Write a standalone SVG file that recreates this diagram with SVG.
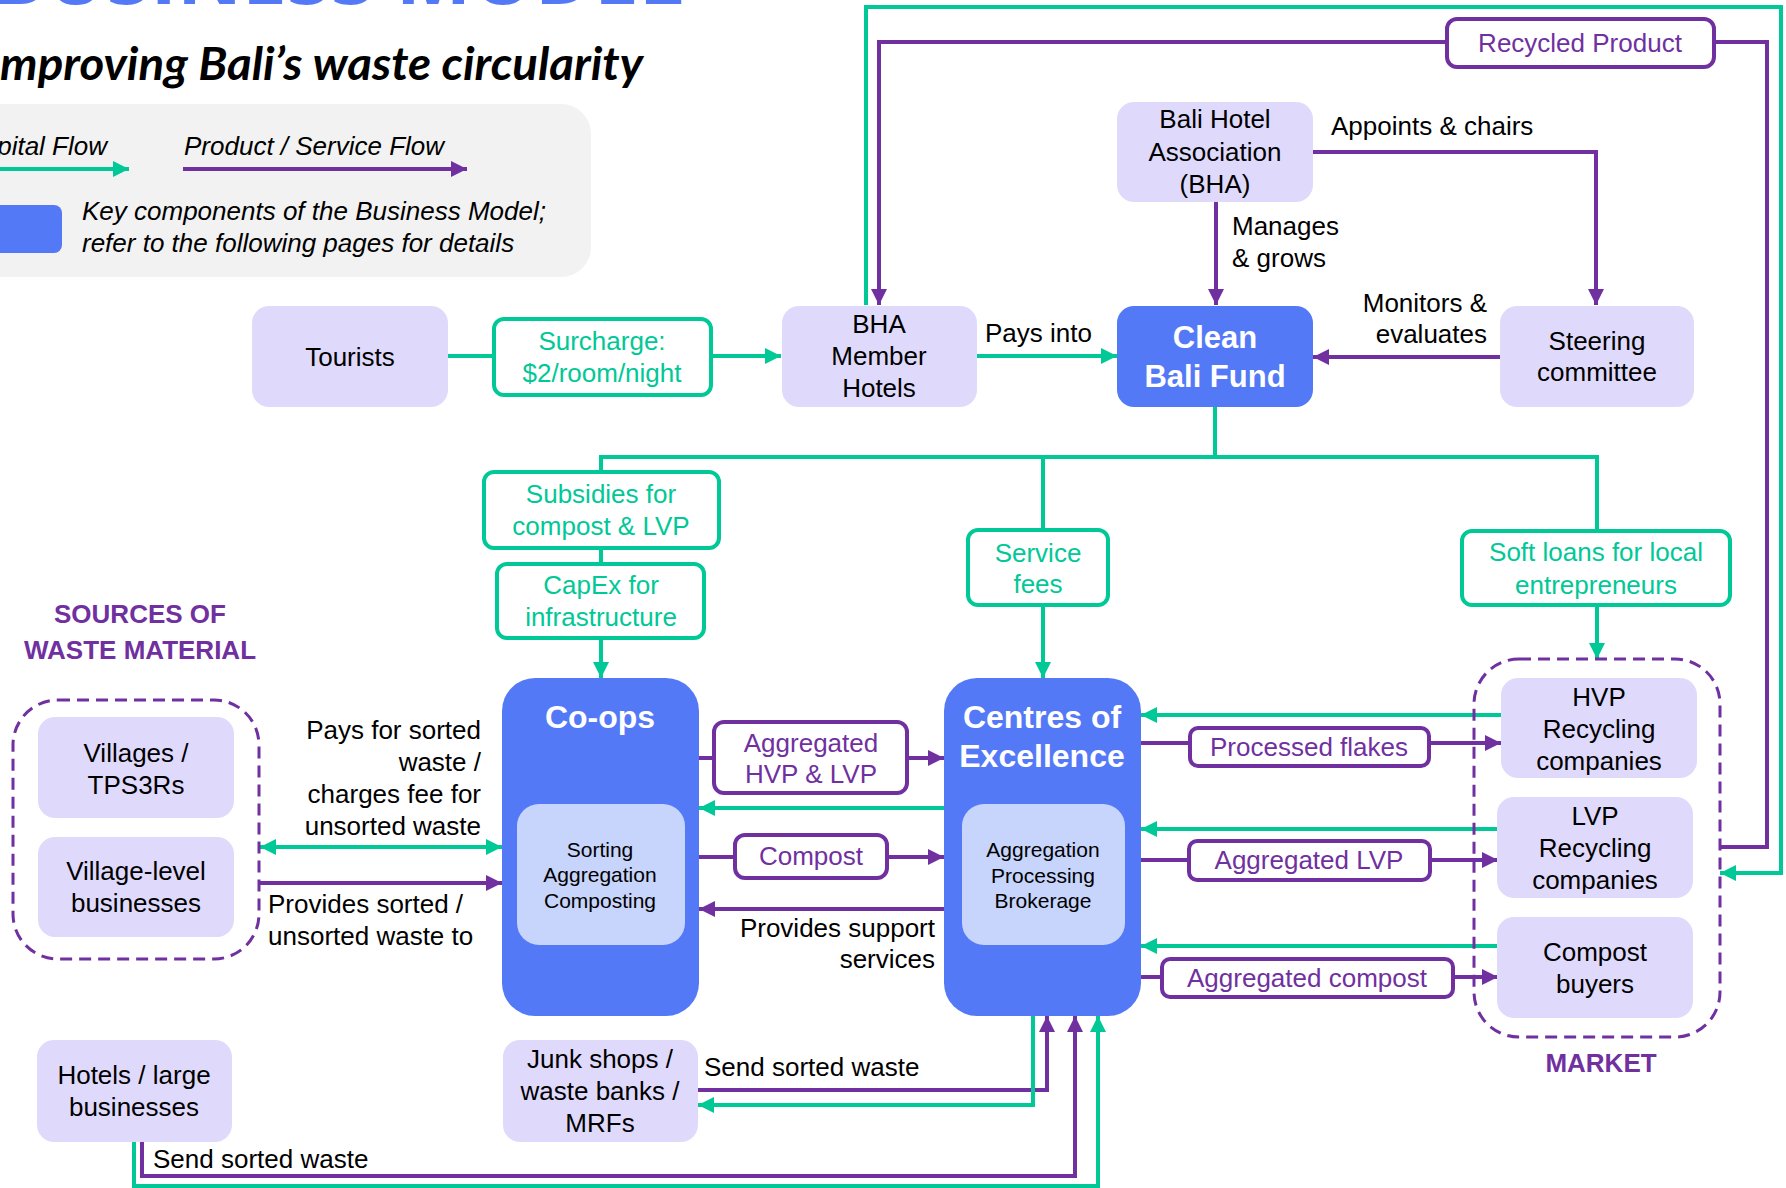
<svg xmlns="http://www.w3.org/2000/svg" width="1786" height="1188" viewBox="0 0 1786 1188">
<defs>
<style>
text{font-family:"Liberation Sans",Arial,sans-serif;font-size:26px;fill:#000}
.c{text-anchor:middle}
.e{text-anchor:end}
.i{font-style:italic}
.node{fill:#DFDAFC}
.key{fill:#5479F7}
.inner{fill:#C7D4FC}
.lg{fill:none;stroke:#00C896;stroke-width:4}
.lp{fill:none;stroke:#7030A0;stroke-width:4}
.bg{fill:#fff;stroke:#00C896;stroke-width:4}
.bp{fill:#fff;stroke:#7030A0;stroke-width:4}
.tg{fill:#00C896}
.tp{fill:#7030A0}
.w{fill:#fff;font-weight:bold;font-size:31px}
.s{font-size:21px}
.h{fill:#7030A0;font-weight:bold}
.dash{fill:none;stroke:#7030A0;stroke-width:3;stroke-dasharray:12 7}
</style>
<marker id="ag" markerUnits="userSpaceOnUse" markerWidth="16" markerHeight="16" refX="16" refY="8" orient="auto-start-reverse"><path d="M0,0L16,8L0,16z" fill="#00C896"/></marker>
<marker id="ap" markerUnits="userSpaceOnUse" markerWidth="16" markerHeight="16" refX="16" refY="8" orient="auto"><path d="M0,0L16,8L0,16z" fill="#7030A0"/></marker>
</defs>
<rect width="1786" height="1188" fill="#fff"/>

<g id="title">
<text x="684" y="4" class="e" style="font-family:'Open Sans',sans-serif;font-size:80px;font-weight:700;fill:#5479F7">BUSINESS MODEL</text>
<text x="-13" y="80" textLength="656" lengthAdjust="spacingAndGlyphs" style="font-family:Lato,'Open Sans',sans-serif;font-size:45px;font-weight:700;font-style:italic">Improving Bali’s waste circularity</text>
</g>

<g id="legend">
<rect x="-40" y="104" width="631" height="173" rx="30" fill="#F2F2F2"/>
<text x="107" y="155" class="e i">Capital Flow</text>
<path d="M-10,169H129" class="lg" marker-end="url(#ag)"/>
<text x="184" y="155" class="i">Product / Service Flow</text>
<path d="M183,169H467" class="lp" marker-end="url(#ap)"/>
<rect x="-20" y="205" width="82" height="48" rx="8" class="key"/>
<text x="82" y="220" class="i">Key components of the Business Model;</text>
<text x="82" y="252" class="i">refer to the following pages for details</text>
</g>

<g id="connectors">
<path d="M448,356H781" class="lg" marker-end="url(#ag)"/>
<path d="M977,356H1117" class="lg" marker-end="url(#ag)"/>
<path d="M1216,202V305" class="lp" marker-end="url(#ap)"/>
<path d="M1313,152H1596V305" class="lp" marker-end="url(#ap)"/>
<path d="M1500,357H1313" class="lp" marker-end="url(#ap)"/>
<path d="M1215,407V457" class="lg"/>
<path d="M601,472V457H1597V531" class="lg"/>
<path d="M1043,457V530" class="lg"/>
<path d="M601,548V564" class="lg"/>
<path d="M601,638V678" class="lg" marker-end="url(#ag)"/>
<path d="M1043,605V678" class="lg" marker-end="url(#ag)"/>
<path d="M1597,605V659" class="lg" marker-end="url(#ag)"/>
<path d="M866,305V7H1781V873H1720" class="lg" marker-end="url(#ag)"/>
<path d="M1447,42H879V305" class="lp" marker-end="url(#ap)"/>
<path d="M1714,42H1767V847H1720" class="lp"/>
<path d="M260,847H502" class="lg" marker-start="url(#ag)" marker-end="url(#ag)"/>
<path d="M259,883H502" class="lp" marker-end="url(#ap)"/>
<path d="M699,758H944" class="lp" marker-end="url(#ap)"/>
<path d="M944,808H699" class="lg" marker-end="url(#ag)"/>
<path d="M699,857H944" class="lp" marker-end="url(#ap)"/>
<path d="M944,909H699" class="lp" marker-end="url(#ap)"/>
<path d="M1501,715H1141" class="lg" marker-end="url(#ag)"/>
<path d="M1141,743H1501" class="lp" marker-end="url(#ap)"/>
<path d="M1498,829H1141" class="lg" marker-end="url(#ag)"/>
<path d="M1141,860H1498" class="lp" marker-end="url(#ap)"/>
<path d="M1498,946H1141" class="lg" marker-end="url(#ag)"/>
<path d="M1141,977H1498" class="lp" marker-end="url(#ap)"/>
<path d="M698,1090H1047V1016" class="lp" marker-end="url(#ap)"/>
<path d="M1033,1016V1105H698" class="lg" marker-end="url(#ag)"/>
<path d="M142,1142V1176H1075V1016" class="lp" marker-end="url(#ap)"/>
<path d="M134,1142V1186H1098V1016" class="lg" marker-end="url(#ag)"/>
</g>

<g id="connector-labels">
<rect x="1447" y="19" width="267" height="48" rx="10" class="bp"/>
<text x="1580" y="52" class="c tp">Recycled Product</text>
<rect x="494" y="319" width="217" height="76" rx="10" class="bg"/>
<text x="602" y="350" class="c tg">Surcharge:</text>
<text x="602" y="382" class="c tg">$2/room/night</text>
<rect x="484" y="472" width="235" height="76" rx="10" class="bg"/>
<text x="601" y="503" class="c tg">Subsidies for</text>
<text x="601" y="535" class="c tg">compost &amp; LVP</text>
<rect x="497" y="564" width="207" height="74" rx="10" class="bg"/>
<text x="601" y="594" class="c tg">CapEx for</text>
<text x="601" y="626" class="c tg">infrastructure</text>
<rect x="968" y="530" width="140" height="75" rx="10" class="bg"/>
<text x="1038" y="562" class="c tg">Service</text>
<text x="1038" y="593" class="c tg">fees</text>
<rect x="1462" y="531" width="268" height="74" rx="10" class="bg"/>
<text x="1596" y="561" class="c tg">Soft loans for local</text>
<text x="1596" y="594" class="c tg">entrepreneurs</text>
<rect x="714" y="722" width="193" height="71" rx="10" class="bp"/>
<text x="811" y="752" class="c tp">Aggregated</text>
<text x="811" y="783" class="c tp">HVP &amp; LVP</text>
<rect x="735" y="835" width="152" height="43" rx="10" class="bp"/>
<text x="811" y="865" class="c tp">Compost</text>
<rect x="1190" y="728" width="239" height="38" rx="8" class="bp"/>
<text x="1309" y="756" class="c tp">Processed flakes</text>
<rect x="1189" y="841" width="241" height="39" rx="8" class="bp"/>
<text x="1309" y="869" class="c tp">Aggregated LVP</text>
<rect x="1162" y="959" width="291" height="38" rx="8" class="bp"/>
<text x="1307" y="987" class="c tp">Aggregated compost</text>
<text x="985" y="342">Pays into</text>
<text x="1331" y="135">Appoints &amp; chairs</text>
<text x="1232" y="235">Manages</text>
<text x="1232" y="267">&amp; grows</text>
<text x="1487" y="312" class="e">Monitors &amp;</text>
<text x="1487" y="343" class="e">evaluates</text>
<text x="481" y="739" class="e">Pays for sorted</text>
<text x="481" y="771" class="e">waste /</text>
<text x="481" y="803" class="e">charges fee for</text>
<text x="481" y="835" class="e">unsorted waste</text>
<text x="268" y="913">Provides sorted /</text>
<text x="268" y="945">unsorted waste to</text>
<text x="935" y="937" class="e">Provides support</text>
<text x="935" y="968" class="e">services</text>
<text x="704" y="1076">Send sorted waste</text>
<text x="153" y="1168">Send sorted waste</text>
</g>

<g id="tourists">
<rect x="252" y="306" width="196" height="101" rx="17" class="node"/>
<text x="350" y="366" class="c">Tourists</text>
</g>
<g id="bha-member-hotels">
<rect x="782" y="306" width="195" height="101" rx="17" class="node"/>
<text x="879" y="333" class="c">BHA</text>
<text x="879" y="365" class="c">Member</text>
<text x="879" y="397" class="c">Hotels</text>
</g>
<g id="clean-bali-fund">
<rect x="1117" y="306" width="196" height="101" rx="17" class="key"/>
<text x="1215" y="348" class="c w">Clean</text>
<text x="1215" y="387" class="c w">Bali Fund</text>
</g>
<g id="bha">
<rect x="1117" y="102" width="196" height="100" rx="17" class="node"/>
<text x="1215" y="128" class="c">Bali Hotel</text>
<text x="1215" y="161" class="c">Association</text>
<text x="1215" y="193" class="c">(BHA)</text>
</g>
<g id="steering-committee">
<rect x="1500" y="306" width="194" height="101" rx="17" class="node"/>
<text x="1597" y="350" class="c">Steering</text>
<text x="1597" y="381" class="c">committee</text>
</g>
<g id="co-ops">
<rect x="502" y="678" width="197" height="338" rx="33" class="key"/>
<text x="600" y="728" class="c w" style="font-size:32px">Co-ops</text>
<rect x="517" y="804" width="168" height="141" rx="22" class="inner"/>
<text x="600" y="857" class="c s">Sorting</text>
<text x="600" y="882" class="c s">Aggregation</text>
<text x="600" y="908" class="c s">Composting</text>
</g>
<g id="centres-of-excellence">
<rect x="944" y="678" width="197" height="338" rx="33" class="key"/>
<text x="1042" y="728" class="c w" style="font-size:32px">Centres of</text>
<text x="1042" y="767" class="c w" style="font-size:32px">Excellence</text>
<rect x="962" y="804" width="163" height="141" rx="22" class="inner"/>
<text x="1043" y="857" class="c s">Aggregation</text>
<text x="1043" y="883" class="c s">Processing</text>
<text x="1043" y="908" class="c s">Brokerage</text>
</g>
<g id="sources">
<text x="140" y="623" class="c h">SOURCES OF</text>
<text x="140" y="659" class="c h">WASTE MATERIAL</text>
<rect x="13" y="700" width="246" height="259" rx="45" class="dash"/>
</g>
<g id="villages">
<rect x="38" y="717" width="196" height="101" rx="17" class="node"/>
<text x="136" y="762" class="c">Villages /</text>
<text x="136" y="794" class="c">TPS3Rs</text>
</g>
<g id="village-level-businesses">
<rect x="38" y="837" width="196" height="100" rx="17" class="node"/>
<text x="136" y="880" class="c">Village-level</text>
<text x="136" y="912" class="c">businesses</text>
</g>
<g id="hotels-large-businesses">
<rect x="37" y="1040" width="195" height="102" rx="17" class="node"/>
<text x="134" y="1084" class="c">Hotels / large</text>
<text x="134" y="1116" class="c">businesses</text>
</g>
<g id="junk-shops">
<rect x="503" y="1040" width="195" height="102" rx="17" class="node"/>
<text x="600" y="1068" class="c">Junk shops /</text>
<text x="600" y="1100" class="c">waste banks /</text>
<text x="600" y="1132" class="c">MRFs</text>
</g>
<g id="market">
<rect x="1474" y="659" width="246" height="378" rx="45" class="dash"/>
<text x="1601" y="1072" class="c h">MARKET</text>
</g>
<g id="hvp-recycling">
<rect x="1501" y="678" width="196" height="100" rx="17" class="node"/>
<text x="1599" y="706" class="c">HVP</text>
<text x="1599" y="738" class="c">Recycling</text>
<text x="1599" y="770" class="c">companies</text>
</g>
<g id="lvp-recycling">
<rect x="1497" y="797" width="196" height="101" rx="17" class="node"/>
<text x="1595" y="825" class="c">LVP</text>
<text x="1595" y="857" class="c">Recycling</text>
<text x="1595" y="889" class="c">companies</text>
</g>
<g id="compost-buyers">
<rect x="1497" y="917" width="196" height="101" rx="17" class="node"/>
<text x="1595" y="961" class="c">Compost</text>
<text x="1595" y="993" class="c">buyers</text>
</g>
</svg>
